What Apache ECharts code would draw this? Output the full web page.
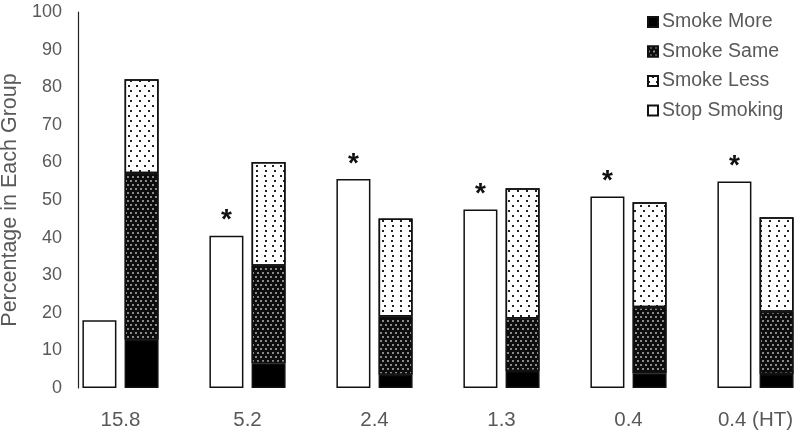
<!DOCTYPE html>
<html>
<head>
<meta charset="utf-8">
<script src="https://cdn.jsdelivr.net/npm/echarts@6/dist/echarts.min.js"></script>
<style>
  html, body { margin: 0; padding: 0; background: #fff; }
  #chart { width: 800px; height: 435px; }
</style>
</head>
<body>
<div id="chart"></div>
<script>
// groups on the x axis
var categories = ['15.8', '5.2', '2.4', '1.3', '0.4', '0.4 (HT)'];

// left bar of each group
var stopSmoking = [18, 40.5, 55.6, 47.5, 50.9, 54.9];
// right (stacked) bar of each group
var smokeMore = [12.8, 6.6, 3.5, 4.5, 3.9, 3.7];
var smokeSame = [44.3, 25.9, 15.5, 14, 17.6, 16.6];
var smokeLess = [25, 27.6, 26.1, 34.6, 27.9, 25.1];

// asterisk above the stop bar
var starred = [false, true, true, true, true, true];

var font = '"Liberation Sans", Arial, sans-serif';
var grey = '#595959';

var myChart = echarts.init(document.getElementById('chart'));

var edge = { borderColor: '#111', borderWidth: 1.5 };

var option = {
  animation: false,
  textStyle: { fontFamily: font },
  legend: {
    data: ['Smoke More', 'Smoke Same', 'Smoke Less', 'Stop Smoking'],
    orient: 'vertical',
    left: 647,
    top: 12,
    padding: 0,
    itemWidth: 10,
    itemHeight: 10,
    itemGap: 9.5,
    icon: 'rect',
    textStyle: { color: grey, fontSize: 19.5, fontFamily: font, padding: [0, 0, 0, -1] }
  },
  grid: {
    left: 57,
    top: 12,
    width: 762,
    height: 376,
    outerBoundsMode: 'none',
    containLabel: false
  },
  xAxis: {
    type: 'category',
    data: categories,
    axisLine: { show: false },
    axisTick: { show: false },
    axisLabel: { color: grey, fontSize: 20.5, margin: 22, fontFamily: font }
  },
  yAxis: {
    type: 'value',
    min: 0,
    max: 100,
    interval: 10,
    offset: -21,
    name: 'Percentage in Each Group',
    nameLocation: 'middle',
    nameGap: 57,
    nameTextStyle: { color: grey, fontSize: 21.5, fontFamily: font },
    axisLine: { show: true, lineStyle: { color: '#222', width: 1.2 } },
    axisTick: { show: false },
    splitLine: { show: false },
    axisLabel: { color: grey, fontSize: 18, margin: 16, fontFamily: font }
  },
  series: [
    {
      name: 'Stop Smoking',
      type: 'bar',
      barWidth: 34,
      barGap: '24%',
      itemStyle: Object.assign({ color: '#fff' }, edge),
      label: {
        show: false,
        position: 'top',
        formatter: '*',
        color: '#111',
        fontSize: 28,
        fontWeight: 'bold',
        distance: 1
      },
      data: stopSmoking.map(function (v, i) {
        return { value: v, label: { show: starred[i] } };
      })
    },
    {
      name: 'Smoke More',
      type: 'bar',
      stack: 'smoke',
      barWidth: 34,
      itemStyle: Object.assign({ color: '#000' }, edge),
      data: smokeMore
    },
    {
      name: 'Smoke Same',
      type: 'bar',
      stack: 'smoke',
      barWidth: 34,
      itemStyle: Object.assign({
        color: '#0d0d0d',
        decal: {
          symbol: 'rect',
          symbolSize: 1,
          color: '#8a8a8a',
          dashArrayX: [[1.3, 2.7], [0, 2, 1.3, 0.7]],
          dashArrayY: [1.3, 1.7]
        }
      }, edge),
      data: smokeSame
    },
    {
      name: 'Smoke Less',
      type: 'bar',
      stack: 'smoke',
      barWidth: 34,
      itemStyle: Object.assign({
        color: '#fff',
        decal: {
          symbol: 'rect',
          symbolSize: 1,
          color: '#222',
          dashArrayX: [[1.3, 5.4], [0, 3.3, 1.3, 2.1]],
          dashArrayY: [1.3, 2.7]
        }
      }, edge),
      data: smokeLess
    }
  ]
};

myChart.setOption(option);
window.onresize = function () {
  myChart.resize();
};
</script>
</body>
</html>
